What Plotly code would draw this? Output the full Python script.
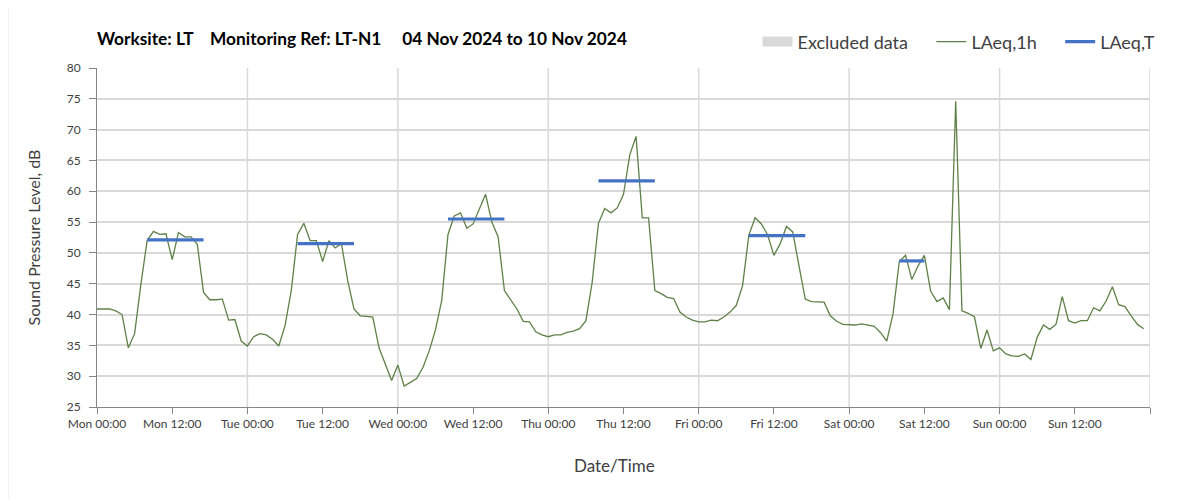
import pandas as pd
import plotly.graph_objects as go

FONT = "Lato, 'Open Sans', sans-serif"

# hourly LAeq,1h readings, Mon 04 Nov 2024 00:00 onwards (168 hours)
START = "2024-11-04 00:00"
LAEQ_1H = [
    # Mon
    40.9, 40.9, 40.9, 40.6, 40.0, 34.6, 36.9, 44.9, 52.0, 53.5, 53.0, 53.1,
    48.9, 53.3, 52.6, 52.6, 51.4, 43.6, 42.4, 42.4, 42.5, 39.1, 39.2, 35.7,
    # Tue
    34.9, 36.4, 36.9, 36.7, 36.0, 34.9, 38.2, 43.9, 53.0, 54.8, 52.0, 52.0,
    48.6, 52.0, 50.8, 51.5, 45.5, 40.9, 39.8, 39.7, 39.6, 34.6, 31.9, 29.3,
    # Wed
    31.8, 28.4, 29.0, 29.6, 31.4, 34.1, 37.5, 42.3, 53.0, 56.0, 56.5, 54.0,
    54.7, 57.0, 59.5, 55.0, 52.6, 43.9, 42.5, 40.9, 38.9, 38.8, 37.2, 36.7,
    # Thu
    36.4, 36.7, 36.7, 37.1, 37.3, 37.7, 39.0, 45.2, 54.8, 57.2, 56.5, 57.3,
    59.5, 65.9, 68.9, 55.7, 55.7, 43.9, 43.4, 42.8, 42.6, 40.4, 39.6, 39.1,
    # Fri
    38.8, 38.8, 39.1, 39.0, 39.6, 40.4, 41.5, 44.7, 52.9, 55.7, 54.7, 52.9,
    49.6, 51.5, 54.3, 53.4, 47.9, 42.5, 42.1, 42.0, 42.0, 39.8, 38.9, 38.4,
    # Sat
    38.4, 38.3, 38.5, 38.3, 38.1, 37.1, 35.7, 40.1, 48.6, 49.6, 45.7, 47.9,
    49.6, 43.8, 42.1, 42.7, 40.8, 74.6, 40.6, 40.2, 39.6, 34.5, 37.5, 34.1,
    # Sun
    34.6, 33.6, 33.3, 33.2, 33.6, 32.7, 36.3, 38.3, 37.6, 38.4, 42.9, 39.0,
    38.6, 39.0, 39.0, 41.1, 40.6, 42.2, 44.5, 41.6, 41.3, 39.8, 38.4, 37.7,
]

# LAeq,T over each working period
LAEQ_T_START = ["2024-11-04 08:00", "2024-11-05 08:00", "2024-11-06 08:00",
                "2024-11-07 08:00", "2024-11-08 08:00", "2024-11-09 08:00"]
LAEQ_T_END = ["2024-11-04 17:00", "2024-11-05 17:00", "2024-11-06 17:00",
              "2024-11-07 17:00", "2024-11-08 17:00", "2024-11-09 12:00"]
LAEQ_T = [52.1, 51.5, 55.5, 61.7, 52.8, 48.7]

X_START, X_END = "2024-11-04 00:00", "2024-11-11 00:00"
TWELVE_H = 12 * 3600 * 1000
NB = "\u00a0"

times = pd.date_range(START, periods=len(LAEQ_1H), freq="h")
label_ticks = pd.date_range(X_START, X_END, freq="12h")[:-1]

# stitch the LAeq,T periods into one trace with gaps
tx, ty = [], []
for s, e, v in zip(LAEQ_T_START, LAEQ_T_END, LAEQ_T):
    tx += [s, e, None]
    ty += [v, v, None]

fig = go.Figure()
# no excluded periods this week - legend entry only
fig.add_trace(go.Scatter(
    x=[None], y=[None], mode="lines", name="Excluded data" + NB * 4,
    line=dict(color="#d9d9d9", width=11), hoverinfo="skip",
))
fig.add_trace(go.Scatter(
    x=times, y=LAEQ_1H, mode="lines", name="LAeq,1h" + NB * 4,
    line=dict(color="#5f8048", width=1.3),
))
fig.add_trace(go.Scatter(
    x=tx, y=ty, mode="lines", name="LAeq,T",
    line=dict(color="#4472c4", width=3.2),
))

# vertical gridlines at each midnight
shapes = []
for d in pd.date_range(X_START, X_END, freq="D")[1:]:
    shapes.append(dict(type="line", xref="x", yref="paper", x0=d, x1=d,
                       y0=0, y1=1, layer="below",
                       line=dict(color="#d9d9d9", width=1.5)))
# outer chart border (left edge only shows in the window)
shapes.append(dict(type="rect", xref="paper", yref="paper",
                   x0=-0.085, x1=1.045, y0=-0.3, y1=1.19,
                   line=dict(color="#d0d0d0", width=1.5), layer="below"))

fig.update_layout(
    width=1203, height=499,
    font=dict(family=FONT, size=12, color="#404040"),
    paper_bgcolor="white",
    plot_bgcolor="white",
    margin=dict(l=89, r=61, t=60, b=100),
    shapes=shapes,
    title=dict(
        text="<b>Worksite: LT    Monitoring Ref: LT-N1     04 Nov 2024 to 10 Nov 2024</b>",
        x=0, xref="paper", xanchor="left",
        y=1 - 31 / 499, yanchor="middle",
        font=dict(family=FONT, size=17.3, color="#000000"),
    ),
    legend=dict(
        orientation="h", x=1.01, xanchor="right", y=1.077, yanchor="middle",
        font=dict(family=FONT, size=18, color="#404040"),
        bgcolor="rgba(0,0,0,0)", itemwidth=30, tracegroupgap=0,
    ),
    annotations=[dict(
        text="Date/Time", xref="paper", yref="paper",
        x=0.491, y=-0.174, xanchor="center", yanchor="middle",
        showarrow=False, font=dict(size=17, color="#404040"),
    )],
    xaxis=dict(
        type="date", range=[X_START, X_END],
        tickmode="array", tickvals=label_ticks, tickformat="%a %H:%M",
        minor=dict(tickmode="linear", tick0=X_START, dtick=TWELVE_H,
                   ticks="outside", ticklen=6, tickcolor="#868686",
                   showgrid=False),
        showgrid=False, showline=True, linecolor="#868686", linewidth=1,
        ticks="outside", ticklen=6, tickcolor="#868686",
        tickfont=dict(size=12, color="#404040"),
        zeroline=False,
    ),
    yaxis=dict(
        range=[25, 80], dtick=5,
        showgrid=True, gridcolor="#d9d9d9", gridwidth=1.5,
        showline=True, linecolor="#868686", linewidth=1,
        ticks="outside", ticklen=7, tickcolor="#868686",
        ticklabelstandoff=6,
        tickfont=dict(size=12, color="#404040"),
        title=dict(text="Sound Pressure Level, dB", standoff=22,
                   font=dict(size=16, color="#404040")),
        zeroline=False,
    ),
)

fig.write_html("out.html")
